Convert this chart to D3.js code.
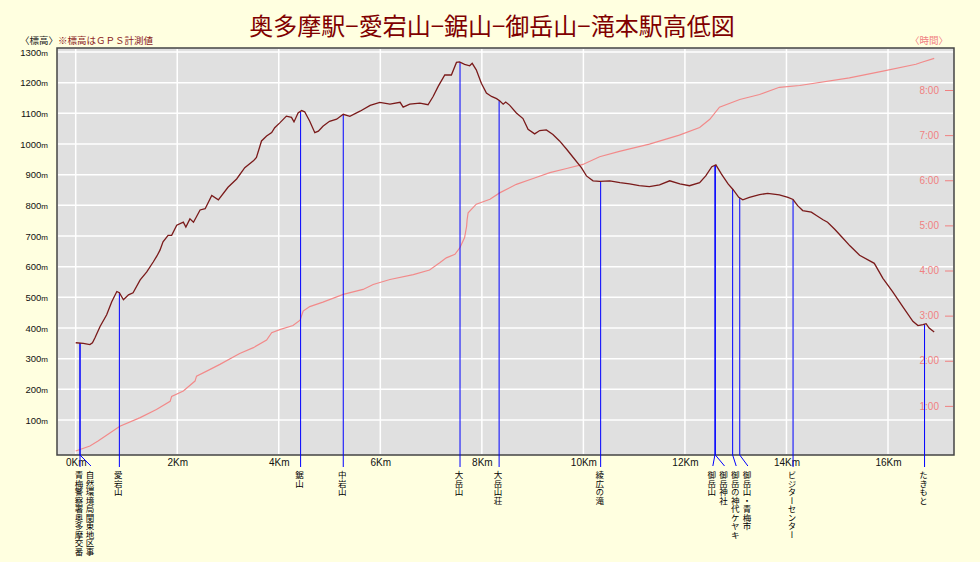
<html>
<head>
<meta charset="utf-8">
<script src="https://d3js.org/d3.v7.min.js"></script>
<style>
  body {margin:0; background:#ffffe0;}
  text {font-family: "Noto Sans CJK JP", "Liberation Sans", sans-serif;}
  .vlabel {writing-mode: vertical-rl; font-size: 8.5px; fill: #000;}
</style>
</head>
<body>
<svg id="chart" width="980" height="562"></svg>
<script>
var titleText = "奥多摩駅−愛宕山−鋸山−御岳山−滝本駅高低図";

// elevation profile (distance km, elevation m)
var profileKm = [0, 0.15, 0.28, 0.33, 0.38, 0.48, 0.61, 0.71, 0.81, 0.86, 0.94, 1.04, 1.13, 1.27, 1.40, 1.53, 1.60, 1.66, 1.72, 1.82, 1.89, 1.99,
  2.12, 2.17, 2.25, 2.32, 2.45, 2.55, 2.68, 2.81, 3.00, 3.17, 3.33, 3.50, 3.56, 3.66, 3.76, 3.86, 3.92, 4.02, 4.15, 4.25, 4.30, 4.38, 4.45,
  4.51, 4.61, 4.71, 4.78, 4.87, 5.00, 5.14, 5.27, 5.40, 5.60, 5.80, 5.99, 6.19, 6.39, 6.45, 6.58, 6.78, 6.94, 7.04, 7.14, 7.27, 7.40, 7.50,
  7.56, 7.66, 7.76, 7.81, 7.89, 7.99, 8.09, 8.19, 8.29, 8.35, 8.42, 8.47, 8.55, 8.68, 8.81, 8.91, 9.04, 9.14, 9.27, 9.40, 9.53, 9.67, 9.80,
  9.96, 10.06, 10.19, 10.32, 10.52, 10.72, 10.91, 11.10, 11.30, 11.50, 11.70, 11.90, 12.09, 12.29, 12.41, 12.53, 12.61, 12.72, 12.85, 12.95,
  13.06, 13.14, 13.27, 13.47, 13.63, 13.86, 14.03, 14.13, 14.22, 14.32, 14.49, 14.59, 14.72, 14.81, 14.95, 15.10, 15.25, 15.44, 15.73, 15.90,
  16.09, 16.29, 16.49, 16.59, 16.69, 16.75, 16.81, 16.91];
var profileElev = [352, 350, 346, 352, 368, 405, 443, 486, 519, 515, 492, 508, 515, 557, 583, 616, 635, 654, 681, 702, 702, 735,
  745, 729, 756, 745, 785, 789, 832, 818, 859, 886, 923, 945, 956, 1010, 1026, 1037, 1053, 1069, 1091, 1087, 1072, 1101, 1109,
  1105, 1074, 1037, 1042, 1058, 1074, 1081, 1097, 1090, 1107, 1126, 1136, 1130, 1136, 1120, 1130, 1133, 1128, 1155, 1188, 1225, 1225, 1266,
  1268, 1260, 1255, 1263, 1242, 1198, 1166, 1155, 1148, 1141, 1130, 1137, 1126, 1101, 1083, 1048, 1033, 1044, 1046, 1031, 1010, 983, 956,
  923, 896, 880, 878, 880, 874, 870, 864, 861, 867, 880, 870, 864, 874, 896, 926, 932, 902, 870, 851,
  826, 818, 826, 835, 839, 834, 826, 819, 799, 783, 778, 767, 753, 745, 722, 695, 668, 637, 611, 562,
  519, 470, 422, 408, 411, 414, 400, 387];

// elapsed time (distance km, hours)
var timeKm = [0, 0.28, 0.44, 0.87, 1.27, 1.59, 1.86, 1.89, 2.12, 2.35, 2.38, 2.58, 2.84, 3.23, 3.50, 3.76, 3.86, 4.02, 4.28, 4.42, 4.48,
  4.61, 4.87, 5.27, 5.66, 5.86, 6.19, 6.65, 6.97, 7.17, 7.30, 7.47, 7.57, 7.66, 7.70, 7.71, 7.73, 7.89, 8.16, 8.35, 8.68, 9.01, 9.34,
  9.67, 9.99, 10.32, 10.71, 11.30, 11.89, 12.29, 12.49, 12.68, 13.08, 13.47, 13.86, 14.26, 15.24, 15.90, 16.55, 16.65, 16.91];
var timeHours = [0, 0.11, 0.22, 0.55, 0.74, 0.92, 1.10, 1.21, 1.33, 1.55, 1.66, 1.77, 1.92, 2.16, 2.29, 2.46, 2.62, 2.69, 2.78, 2.90, 3.10,
  3.20, 3.30, 3.47, 3.58, 3.69, 3.80, 3.91, 4.01, 4.17, 4.28, 4.36, 4.51, 4.73, 4.98, 5.13, 5.28, 5.47, 5.58, 5.72, 5.91, 6.04, 6.17,
  6.26, 6.35, 6.52, 6.64, 6.80, 7.00, 7.17, 7.35, 7.62, 7.79, 7.90, 8.06, 8.10, 8.27, 8.42, 8.57, 8.61, 8.70];

// waypoints
var spotNames = ["青梅警察署奥多摩交番", "自然環境局関東地区事", "愛宕山", "鋸山", "中岩山", "大岳山", "大岳山荘", "綾広の滝",
  "御岳山", "御岳神社", "御岳の神代ケヤキ", "御岳山・青梅市", "ビジターセンター", "たきもと"];
var spotKm = [0.085, 0.085, 0.86, 4.43, 5.27, 7.57, 8.34, 10.34, 12.59, 12.60, 12.94, 13.08, 14.13, 16.72];
var spotLabelKm = [0.085, 0.30, 0.86, 4.43, 5.27, 7.57, 8.34, 10.34, 12.55, 12.78, 13.01, 13.24, 14.13, 16.72];

var elevTicks = [100, 200, 300, 400, 500, 600, 700, 800, 900, 1000, 1100, 1200, 1300];
var hourTicks = [1, 2, 3, 4, 5, 6, 7, 8];
var hourLabels = ["1:00", "2:00", "3:00", "4:00", "5:00", "6:00", "7:00", "8:00"];
var kmTicks = [0, 2, 4, 6, 8, 10, 12, 14, 16];

var svg = d3.select("#chart");
var x = d3.scaleLinear().domain([0, 16]).range([75.7, 888]);
var y = d3.scaleLinear().domain([0, 1300]).range([450.7, 52]);
var yt = d3.scaleLinear().domain([0, 8]).range([451, 90]);
var elevAt = d3.scaleLinear().domain(profileKm).range(profileElev);

// title
svg.append("text").attr("x", 492).attr("y", 35).attr("text-anchor", "middle")
  .style("font-size", "24px").style("fill", "#800000").text(titleText);

svg.append("text").attr("x", 20).attr("y", 44).style("font-size", "9.5px").style("fill", "#222").text("〈標高〉");
svg.append("text").attr("x", 58).attr("y", 44).style("font-size", "9.5px").style("fill", "#8b1c1c").text("※標高はＧＰＳ計測値");
svg.append("text").attr("x", 948).attr("y", 44).attr("text-anchor", "end").style("font-size", "9.5px").style("fill", "#f08080").text("〈時間〉");

// plot area
svg.append("rect").attr("x", 57).attr("y", 48).attr("width", 897).attr("height", 407)
  .attr("fill", "#e0e0e0").attr("stroke", "#444").attr("stroke-width", 1.5);

var grid = svg.append("g");
grid.selectAll(".hg").data(elevTicks).enter().append("line")
  .attr("x1", 58).attr("x2", 953).attr("y1", d => y(d)).attr("y2", d => y(d))
  .attr("stroke", "#fff").attr("stroke-width", 1.5);
grid.selectAll(".vg").data(kmTicks).enter().append("line")
  .attr("x1", d => x(d)).attr("x2", d => x(d)).attr("y1", 49).attr("y2", 454)
  .attr("stroke", "#fff").attr("stroke-width", 1.5);

// left axis
var la = svg.append("g").attr("transform", "translate(48,0)")
  .call(d3.axisLeft(y).tickValues(elevTicks).tickSize(0).tickPadding(0).tickFormat(d => d));
la.select(".domain").remove();
la.selectAll("text").style("font-family", "Liberation Sans, sans-serif").style("font-size", "9.5px").style("fill", "#111")
  .each(function() { d3.select(this).append("tspan").style("font-size", "8px").text("m"); });

// right axis (time)
var ra = svg.append("g").attr("transform", "translate(953,0)")
  .call(d3.axisLeft(yt).tickValues(hourTicks).tickSize(8).tickPadding(6).tickFormat((d, i) => hourLabels[i]));
ra.select(".domain").remove();
ra.selectAll("line").attr("stroke", "#f08080");
ra.selectAll("text").style("font-family", "Liberation Sans, sans-serif").style("font-size", "10px").style("fill", "#f08080");

// bottom axis
var ba = svg.append("g").attr("transform", "translate(0,455)")
  .call(d3.axisBottom(x).tickValues(kmTicks).tickSize(0).tickPadding(4).tickFormat(d => d + "Km"));
ba.select(".domain").remove();
ba.selectAll("text").style("font-family", "Liberation Sans, sans-serif").style("font-size", "10px").style("fill", "#111");

// time line
svg.append("path").datum(timeKm)
  .attr("d", d3.line().x(d => x(d)).y((d, i) => yt(timeHours[i])))
  .attr("fill", "none").attr("stroke", "#f28a8a").attr("stroke-width", 1.2);

// waypoint lines
svg.selectAll(".spot").data(spotKm).enter().append("path")
  .attr("d", (d, i) => "M" + x(d) + "," + y(elevAt(d)) + "V455L" + x(spotLabelKm[i]) + ",466" + (spotLabelKm[i] === d ? "V467" : ""))
  .attr("fill", "none").attr("stroke", "#0000ff").attr("stroke-width", 1);

// elevation line
svg.append("path").datum(profileKm)
  .attr("d", d3.line().x(d => x(d)).y((d, i) => y(profileElev[i])))
  .attr("fill", "none").attr("stroke", "#7a1a1a").attr("stroke-width", 1.3);

// waypoint labels
svg.selectAll(".vlabel").data(spotNames).enter().append("text")
  .attr("class", "vlabel")
  .attr("x", (d, i) => x(spotLabelKm[i]) - 1).attr("y", 471)
  .text(d => d);
</script>
</body>
</html>
